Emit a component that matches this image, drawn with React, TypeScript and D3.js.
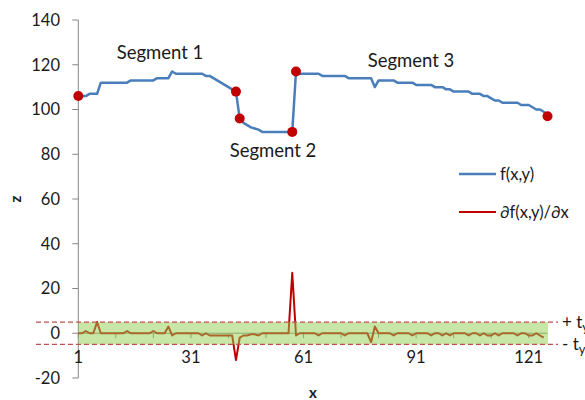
import React from "react";
import * as d3 from "d3";

// f(x,y) values, x = 1..126
const fValues: number[] = [
  106, 106, 106, 107, 107, 107, 112, 112, 112, 112,
  112, 112, 112, 112, 113, 113, 113, 113, 113, 113,
  113, 114, 114, 114, 114, 117, 116, 116, 116, 116,
  116, 116, 116, 116, 115, 115, 114, 113, 112, 111,
  110, 109, 108, 96, 94, 93, 92, 91.5, 91, 90,
  90, 90, 90, 90, 90, 90, 90, 90, 117, 116,
  116, 116, 116, 116, 116, 115, 115, 115, 115, 115,
  115, 115, 114, 114, 114, 114, 114, 114, 114, 110,
  113, 113, 113, 113, 113, 112, 112, 112, 112, 112,
  111, 111, 111, 111, 111, 110, 110, 110, 109, 109,
  108, 108, 108, 108, 108, 107, 107, 107, 106, 106,
  105, 104, 104, 103, 103, 103, 103, 103, 102, 102,
  102, 101, 100, 100, 99, 97,
];

// ∂f(x,y)/∂x values, x = 1..125
const dValues: number[] = [
  0, 0, 1, 0, 0, 5, 0, 0, 0, 0,
  0, 0, 0, 1, 0, 0, 0, 0, 0, 0,
  1, 0, 0, 0, 3, -1, 0, 0, 0, 0,
  0, 0, 0, -1, 0, -1, -1, -1, -1, -1,
  -1, -1, -12, -2, -1, -1, -0.5, -0.5, -1, 0,
  0, 0, 0, 0, 0, 0, 0, 27, -1, 0,
  0, 0, 0, 0, -1, 0, 0, 0, 0, 0,
  0, -1, 0, 0, 0, 0, 0, 0, -4, 3,
  0, 0, 0, 0, -1, 0, 0, 0, 0, -1,
  0, 0, 0, 0, -1, 0, 0, -1, 0, -1,
  0, 0, 0, 0, -1, 0, 0, -1, 0, -1,
  -1, 0, -1, 0, 0, 0, 0, -1, 0, 0,
  -1, -1, 0, -1, -2,
];

const breakpoints: number[] = [1, 43, 44, 58, 59, 126];
const yTicks: number[] = [-20, 0, 20, 40, 60, 80, 100, 120, 140];
const xTickLabels: number[] = [1, 31, 61, 91, 121];
const xTickMarks: number[] = [1, 11, 21, 31, 41, 51, 61, 71, 81, 91, 101, 111, 121];
const threshold = 5;
const segmentLabels = [
  { text: "Segment 1", x: 1, y: 128 },
];

export default function App() {
  const W = 585;
  const H = 400;
  const x = d3.scaleLinear().domain([1, 126]).range([78.3, 547.5]);
  const y = d3.scaleLinear().domain([-20, 140]).range([378, 20]);

  const fPts: [number, number][] = fValues.map((v, i) => [i + 1, v]);
  const dPts: [number, number][] = dValues.map((v, i) => [i + 1, v]);
  const line = d3
    .line<[number, number]>()
    .x((d) => x(d[0]))
    .y((d) => y(d[1]));

  const axisColor = "#868686";
  const font = "Lato, 'Open Sans', sans-serif";
  const textColor = "#1a1a1a";
  const x0 = x(1);

  return (
    <svg
      width={W}
      height={H}
      style={{ position: "absolute", left: 0, top: 0, background: "#fff" }}
      fontFamily={font}
    >
      {/* y axis */}
      <line x1={x0} x2={x0} y1={y(140)} y2={y(-20)} stroke={axisColor} strokeWidth={1} />
      {yTicks.map((t) => (
        <g key={"yt" + t}>
          <line x1={x0 - 6} x2={x0} y1={y(t)} y2={y(t)} stroke={axisColor} strokeWidth={1} />
          <text x={60} y={y(t)} dy="0.35em" textAnchor="end" fontSize={16.5} fill={textColor}>
            {t}
          </text>
        </g>
      ))}
      {/* x axis at 0 */}
      <line x1={x0} x2={x(126)} y1={y(0)} y2={y(0)} stroke={axisColor} strokeWidth={1} />
      {xTickMarks.map((t) => (
        <line key={"xm" + t} x1={x(t)} x2={x(t)} y1={y(0)} y2={y(0) + 5} stroke={axisColor} strokeWidth={1} />
      ))}
      {xTickLabels.map((t) => (
        <text key={"xl" + t} x={x(t)} y={363} textAnchor="middle" fontSize={16.5} fill={textColor}>
          {t}
        </text>
      ))}

      {/* derivative line */}
      <path d={line(dPts) || ""} fill="none" stroke="#C00000" strokeWidth={2} strokeLinejoin="round" />

      {/* tolerance band */}
      <rect
        x={x0}
        y={y(threshold)}
        width={548 - x0}
        height={y(-threshold) - y(threshold)}
        fill="rgba(146,208,80,0.5)"
      />
      <line x1={36} x2={558} y1={y(threshold)} y2={y(threshold)} stroke="#C0504D" strokeWidth={1.2} strokeDasharray="5,3" />
      <line x1={36} x2={558} y1={y(-threshold)} y2={y(-threshold)} stroke="#C0504D" strokeWidth={1.2} strokeDasharray="5,3" />
      <text x={562} y={y(threshold) + 6} fontSize={17} fill={textColor}>
        + t<tspan fontSize={13} dy={4}>y</tspan>
      </text>
      <text x={562} y={y(-threshold) + 6} fontSize={17} fill={textColor}>
        - t<tspan fontSize={13} dy={4}>y</tspan>
      </text>

      {/* f line */}
      <path d={line(fPts) || ""} fill="none" stroke="#4A7EBB" strokeWidth={2.5} strokeLinejoin="round" />
      {breakpoints.map((b) => (
        <circle key={"bp" + b} cx={x(b)} cy={y(fValues[b - 1])} r={5} fill="#C00000" />
      ))}

      {/* segment labels */}
      <text x={160} y={59} textAnchor="middle" fontSize={18.5} fill={textColor}>Segment 1</text>
      <text x={273} y={157} textAnchor="middle" fontSize={18.5} fill={textColor}>Segment 2</text>
      <text x={411} y={67} textAnchor="middle" fontSize={18.5} fill={textColor}>Segment 3</text>

      {/* legend */}
      <line x1={459} x2={496} y1={174} y2={174} stroke="#4A7EBB" strokeWidth={2.5} />
      <text x={500} y={174} dy="0.35em" fontSize={16.5} fill={textColor}>f(x,y)</text>
      <line x1={459} x2={496} y1={212} y2={212} stroke="#C00000" strokeWidth={2} />
      <text x={500} y={212} dy="0.35em" fontSize={16.5} fill={textColor}>∂f(x,y)/∂x</text>

      {/* axis titles */}
      <text x={313} y={398} textAnchor="middle" fontSize={15} fontWeight="bold" fill={textColor}>x</text>
      <text
        transform={`translate(21,199) rotate(-90)`}
        textAnchor="middle"
        fontSize={15}
        fontWeight="bold"
        fill={textColor}
      >
        z
      </text>
    </svg>
  );
}
